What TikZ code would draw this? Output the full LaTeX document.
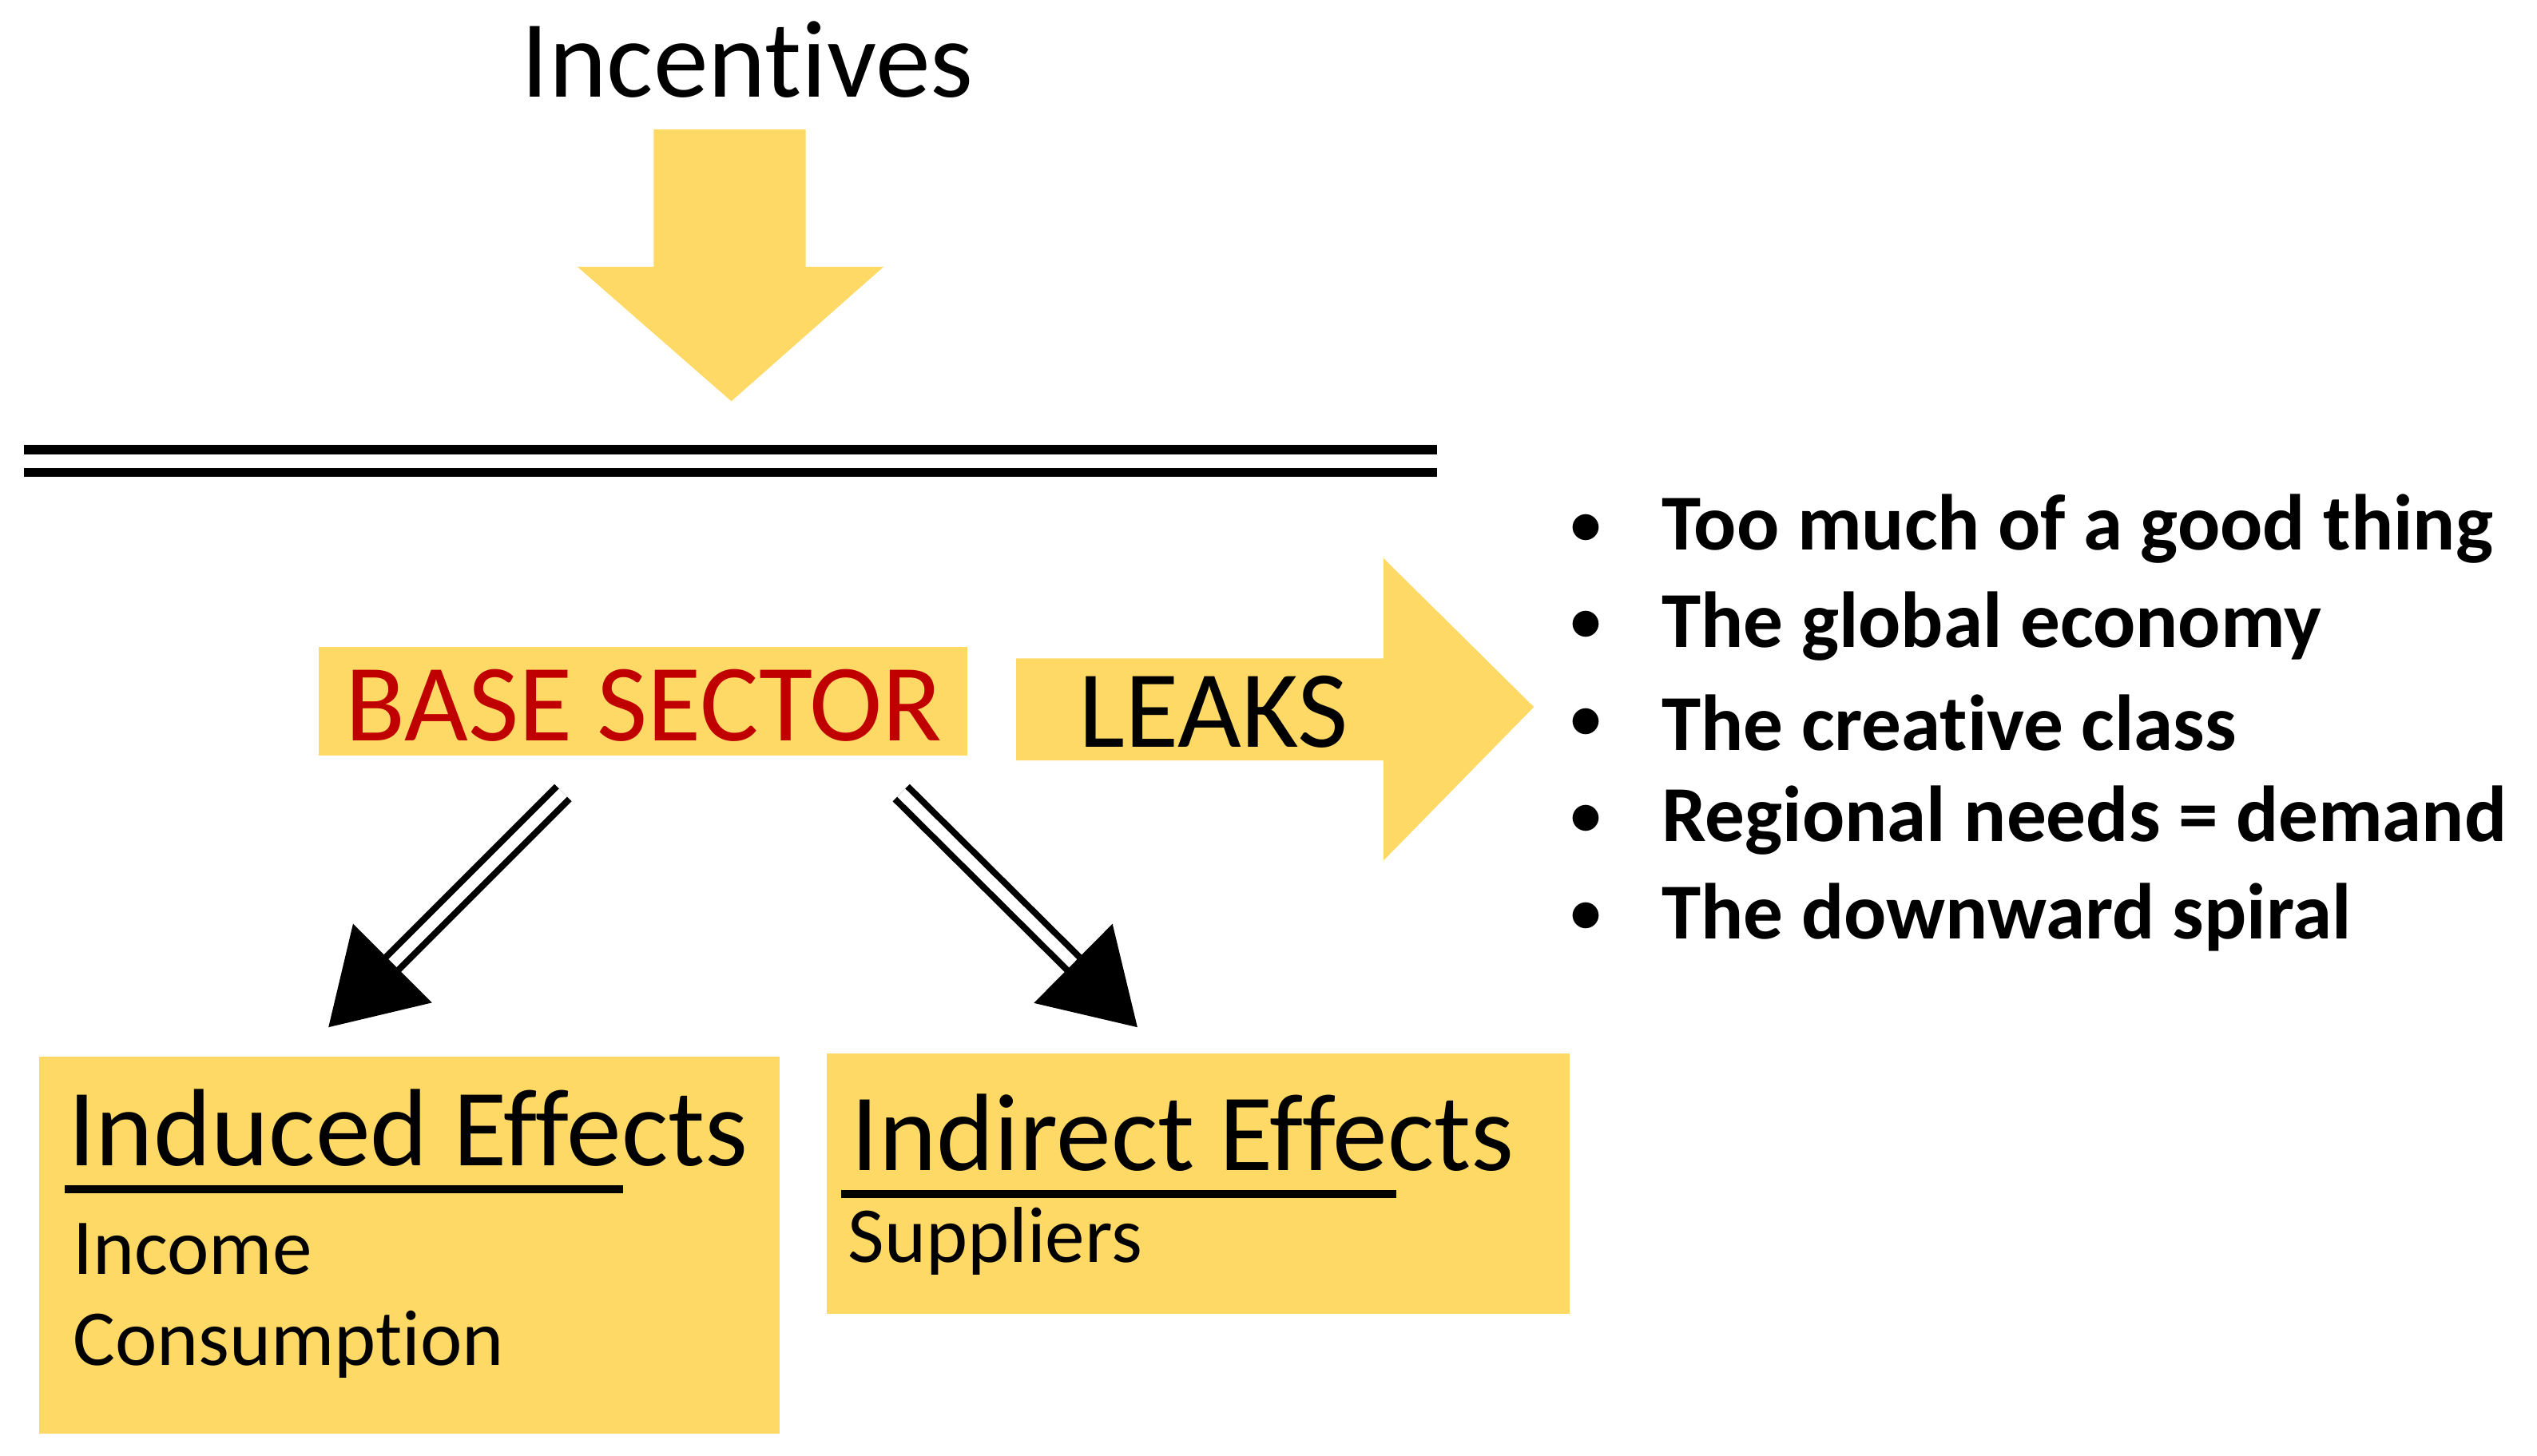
\documentclass[tikz,border=0pt]{standalone}
\usepackage{fontspec}
\setmainfont{Carlito}[RawFeature=-liga]
\usetikzlibrary{arrows.meta}
\definecolor{gold}{HTML}{FFD966}
\definecolor{dred}{HTML}{C00000}
\begin{document}
\begin{tikzpicture}[x=0.5pt,y=-0.5pt,
  box/.style={fill=gold,draw=none},
  conn/.style={line width=2pt,double=white,double distance=3.5pt,-{Triangle[length=28pt,width=34pt]}},
  bul/.style={anchor=west,font=\fontsize{24.5}{28}\selectfont\bfseries}]
\useasboundingbox (0,0) rectangle (1568,900);
\node[font=\fontsize{34}{40}\selectfont] (inc) at (462,37) {Incentives};
\fill[gold] (404,80) -- (498,80) -- (498,165) -- (546,165) -- (452,248) -- (357,165) -- (404,165) -- cycle;
\draw[line width=2.8pt] (15,278) -- (888,278) (15,292) -- (888,292);
\fill[box] (197,400) rectangle (598,467);
\node[text=dred,font=\fontsize{34}{40}\selectfont] (base) at (398,436) {BASE SECTOR};
\fill[gold] (628,407) -- (855,407) -- (855,345) -- (948,437) -- (855,532) -- (855,470) -- (628,470) -- cycle;
\node[font=\fontsize{34}{40}\selectfont] (leaks) at (750,440) {LEAKS};
\foreach \y/\t in {327/Too much of a good thing,387/The global economy,447/The creative class,507/Regional needs = demand,567/The downward spiral}{
  \node[font=\fontsize{20}{24}\selectfont] at (980,\y) {$\bullet$};
  \node[bul] at (1020,\y) {\t};
}
\fill[box] (24,653) rectangle (482,886);
\node[anchor=west,font=\fontsize{34}{40}\selectfont] (ind) at (35,697) {Induced Effects};
\draw[line width=2.4pt] (40,735) -- (385,735);
\node[anchor=west,font=\fontsize{24.5}{28}\selectfont] at (38,772) {Income};
\node[anchor=west,font=\fontsize{24.5}{28}\selectfont] at (38,831) {Consumption};
\fill[box] (511,651) rectangle (970,812);
\node[anchor=west,font=\fontsize{34}{40}\selectfont] (indir) at (519,700) {Indirect Effects};
\draw[line width=2.4pt] (520,738) -- (863,738);
\node[anchor=west,font=\fontsize{24.5}{28}\selectfont] at (517,767) {Suppliers};
\coordinate (a1) at (348,490); \coordinate (a2) at (203,635);
\coordinate (b1) at (557,490); \coordinate (b2) at (703,635);
\draw[conn] (a1) -- (a2);
\draw[conn] (b1) -- (b2);
\end{tikzpicture}
\end{document}
